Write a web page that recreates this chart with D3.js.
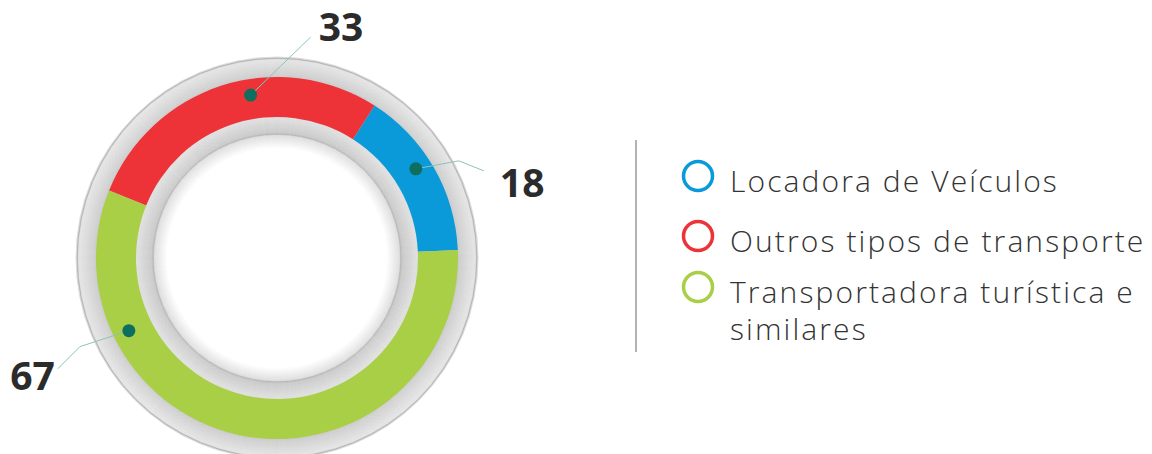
<!DOCTYPE html>
<html>
<head>
<meta charset="utf-8">
<script src="https://cdn.jsdelivr.net/npm/d3@7"></script>
<style>
  body { margin: 0; background: #fff; }
  svg { display: block; }
</style>
</head>
<body>
<div id="chart"></div>
<script>
// data
var categories = ["Locadora de Veículos", "Outros tipos de transporte", "Transportadora turística e similares"];
var values = [18, 33, 67];
var colors = ["#0a9ad9", "#ed3238", "#a8cf45"];
var legendLines = [["Locadora de Veículos"], ["Outros tipos de transporte"], ["Transportadora turística e", "similares"]];

var width = 1152, height = 454;
var cx = 277, cy = 258;

// where the dot sits along each arc (0 = start, 1 = end) and its leader line
var dotAt = [0.55, 0.415, 0.235];
var leader = [
  {pts: [[43, -8], [68, 2]], label: [84, 28], anchor: "start"},
  {pts: [[30, -29], [60, -58]], label: [68, -54], anchor: "start"},
  {pts: [[-49, 16], [-71, 38]], label: [-74, 59], anchor: "end"}
];

var svg = d3.select("#chart").append("svg")
    .attr("width", width)
    .attr("height", height);

var g = svg.append("g")
    .attr("transform", "translate(" + cx + "," + cy + ")");

// gray frame, drawn as thin concentric rings so the shading follows the radius
var shade = d3.scaleLinear()
    .domain([110, 123, 124, 126, 140, 141, 181, 183, 197, 199, 200, 201])
    .range(["#ffffff", "#dddddd", "#b4b4b4", "#c9c9c9", "#dedede", "#dedede",
            "#c6c6c6", "#cdcdcd", "#e2e2e2", "#e2e2e2", "#a8a8a8", "#dcdcdc"])
    .interpolate(d3.interpolateRgb)
    .clamp(true);

g.selectAll("circle.frame")
  .data(d3.range(110, 201.5, 0.5))
  .enter().append("circle")
    .attr("class", "frame")
    .attr("r", function(r) { return r; })
    .attr("fill", "none")
    .attr("stroke", function(r) { return shade(r); })
    .attr("stroke-width", 0.9);

// colored band, drawn counter-clockwise
var start = 87.5 * Math.PI / 180;
var pie = d3.pie().sort(null).startAngle(start).endAngle(start - 2 * Math.PI);
var arcs = pie(values);
var band = d3.arc().innerRadius(141).outerRadius(181);

g.selectAll("path.slice")
  .data(arcs)
  .enter().append("path")
    .attr("class", "slice")
    .attr("d", band)
    .attr("fill", function(d, i) { return colors[i]; });

// dots, leader lines and value labels
var rDot = 165;
arcs.forEach(function(d, i) {
  var a = d.startAngle + (d.endAngle - d.startAngle) * dotAt[i];
  var x = rDot * Math.sin(a), y = -rDot * Math.cos(a);
  var L = leader[i];
  var pts = [[x, y]].concat(L.pts.map(function(p) { return [x + p[0], y + p[1]]; }));

  g.append("path")
      .attr("d", d3.line()(pts))
      .attr("fill", "none")
      .attr("stroke", "#8fc2b9")
      .attr("stroke-width", 1);

  g.append("circle")
      .attr("cx", x).attr("cy", y)
      .attr("r", 6.5)
      .attr("fill", "#0e6f5f");

  g.append("text")
      .attr("x", x + L.label[0])
      .attr("y", y + L.label[1])
      .attr("text-anchor", L.anchor)
      .style("font-family", "'Open Sans', sans-serif")
      .style("font-weight", 700)
      .style("font-size", "39px")
      .style("fill", "#2b2b2b")
      .text(d.data);
});

// separator
svg.append("line")
    .attr("x1", 636).attr("x2", 636)
    .attr("y1", 140).attr("y2", 352)
    .attr("stroke", "#9a9a9a")
    .attr("stroke-width", 1.5);

// legend
var legendY = [176, 236, 287];
var legend = svg.selectAll("g.legend")
  .data(categories)
  .enter().append("g")
    .attr("class", "legend")
    .attr("transform", function(d, i) { return "translate(698," + legendY[i] + ")"; });

legend.append("circle")
    .attr("r", 14.5)
    .attr("fill", "none")
    .attr("stroke", function(d, i) { return colors[i]; })
    .attr("stroke-width", 3.5);

legend.append("text")
    .attr("x", 32)
    .attr("y", 16)
    .style("font-family", "'Open Sans', sans-serif")
    .style("font-weight", 300)
    .style("font-size", "30px")
    .style("letter-spacing", "2.1px")
    .style("fill", "#333")
    .each(function(d, i) {
      var t = d3.select(this);
      legendLines[i].forEach(function(line, j) {
        t.append("tspan")
            .attr("x", 32)
            .attr("dy", j === 0 ? 0 : 37)
            .text(line);
      });
    });
</script>
</body>
</html>
